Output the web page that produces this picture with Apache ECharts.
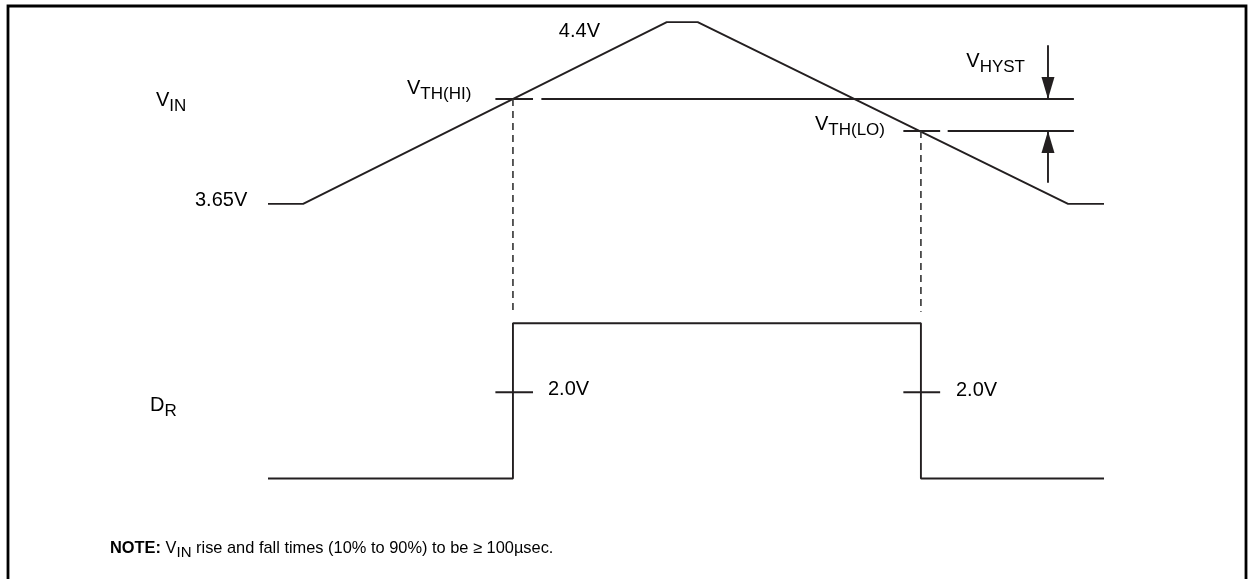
<!DOCTYPE html>
<html><head><meta charset="utf-8">
<script src="https://cdn.jsdelivr.net/npm/echarts@6/dist/echarts.min.js"></script>
<style>html,body{margin:0;padding:0;background:#fff}#c{width:1248px;height:579px}</style>
</head><body><div id="c"></div>
<script>
// ---- data (time in arbitrary units, voltages in V) ----
const vinTime = [0, 4.2, 47.7, 51.4, 95.7, 100];
const vinVolt = [3.65, 3.65, 4.4, 4.4, 3.65, 3.65];
const drTime = [0, 29.3, 29.3, 78.1, 78.1, 100];
const drVolt = [0, 0, 3.6, 3.6, 0, 0];
const vthHigh = 4.083;
const vthLow = 3.951;
const crossTimes = [29.3, 78.1];
const vthHighSegs = [[27.2, 31.7], [32.7, 96.4]];
const vthLowSegs = [[76.0, 80.4], [81.3, 96.4]];
const drThreshold = 2.0;
const drTickSegs = [[27.2, 31.7], [76.0, 80.4]];
const hystTime = 93.3;
const hystArrowStart = [4.305, 3.737];
const dashEnd = 3.205;

const INK = '#231f20';
const FONT = 'Liberation Sans, Arial, sans-serif';
const chart = echarts.init(document.getElementById('c'), null, {renderer: 'canvas'});

const base = {type: 'line', showSymbol: false, silent: true, animation: false, clip: false,
  lineStyle: {color: INK, width: 1.9}, itemStyle: {color: INK}};
function seg(x0, x1, y, gi) {
  return Object.assign({}, base, {xAxisIndex: gi, yAxisIndex: gi, data: [[x0, y], [x1, y]]});
}
const series = [];
series.push(Object.assign({}, base, {xAxisIndex: 0, yAxisIndex: 0, data: vinTime.map((t, i) => [t, vinVolt[i]])}));
series.push(Object.assign({}, base, {xAxisIndex: 1, yAxisIndex: 1, data: drTime.map((t, i) => [t, drVolt[i]])}));
vthHighSegs.forEach(s => series.push(seg(s[0], s[1], vthHigh, 0)));
vthLowSegs.forEach(s => series.push(seg(s[0], s[1], vthLow, 0)));
drTickSegs.forEach(s => series.push(seg(s[0], s[1], drThreshold, 1)));
[[crossTimes[0], vthHigh], [crossTimes[1], vthLow]].forEach(p => {
  series.push(Object.assign({}, base, {xAxisIndex: 0, yAxisIndex: 0,
    lineStyle: {color: '#333', width: 1.6, type: [7, 5]},
    data: [[p[0], p[1]], [p[0], dashEnd]]}));
});
// hysteresis arrows
[[hystArrowStart[0], vthHigh, 180, -11], [hystArrowStart[1], vthLow, 0, 11]].forEach(a => {
  series.push(Object.assign({}, base, {xAxisIndex: 0, yAxisIndex: 0, showSymbol: true,
    lineStyle: {color: INK, width: 1.9},
    data: [{value: [hystTime, a[0]], symbol: 'none'},
           {value: [hystTime, a[1]], symbol: 'triangle', symbolSize: [13, 22], symbolRotate: a[2], symbolOffset: [0, a[3]]}]}));
});

function lbl(text, x, y, align, size, sub) {
  return {type: 'text', x: x, y: y, silent: true,
    style: {text: text, align: align || 'left', verticalAlign: 'middle', fill: '#000',
      font: (size || 20) + 'px ' + FONT,
      rich: {m: {fontSize: size || 20, fontFamily: FONT, fill: '#000'},
             s: {fontSize: sub || 17, fontFamily: FONT, fill: '#000', padding: [12, 0, 0, 0]},
             b: {fontSize: 16.4, fontWeight: 'bold', fontFamily: FONT, fill: '#000'},
             n: {fontSize: 16.4, fontFamily: FONT, fill: '#000'},
             ns: {fontSize: 15, fontFamily: FONT, fill: '#000', padding: [9, 0, 0, 0]}}}};
}

chart.setOption({
  animation: false,
  backgroundColor: '#fff',
  grid: [
    {left: 268, right: 144, top: 10, height: 206},
    {left: 268, right: 144, top: 306, height: 194}
  ],
  xAxis: [0, 1].map(i => ({type: 'value', gridIndex: i, min: 0, max: 100, show: false})),
  yAxis: [
    {type: 'value', gridIndex: 0, min: 3.6, max: 4.45, show: false},
    {type: 'value', gridIndex: 1, min: -0.5, max: 4, show: false}
  ],
  series: series,
  graphic: [
    {type: 'rect', silent: true, shape: {x: 8, y: 6, width: 1238, height: 620},
     style: {fill: 'none', stroke: '#000', lineWidth: 2.8}},
    lbl('{m|V}{s|IN}', 156, 100),
    lbl('{m|3.65V}', 195, 200),
    lbl('{m|4.4V}', 600, 31, 'right'),
    lbl('{m|V}{s|TH(HI)}', 407, 88),
    lbl('{m|V}{s|TH(LO)}', 885, 124, 'right'),
    lbl('{m|V}{s|HYST}', 1025, 61, 'right'),
    lbl('{m|D}{s|R}', 150, 405),
    lbl('{m|2.0V}', 548, 389),
    lbl('{m|2.0V}', 956, 390),
    lbl('{b|NOTE:}{n| V}{ns|IN}{n| rise and fall times (10% to 90%) to be \u2265 100\u00b5sec.}', 110, 548)
  ]
});
</script></body></html>
